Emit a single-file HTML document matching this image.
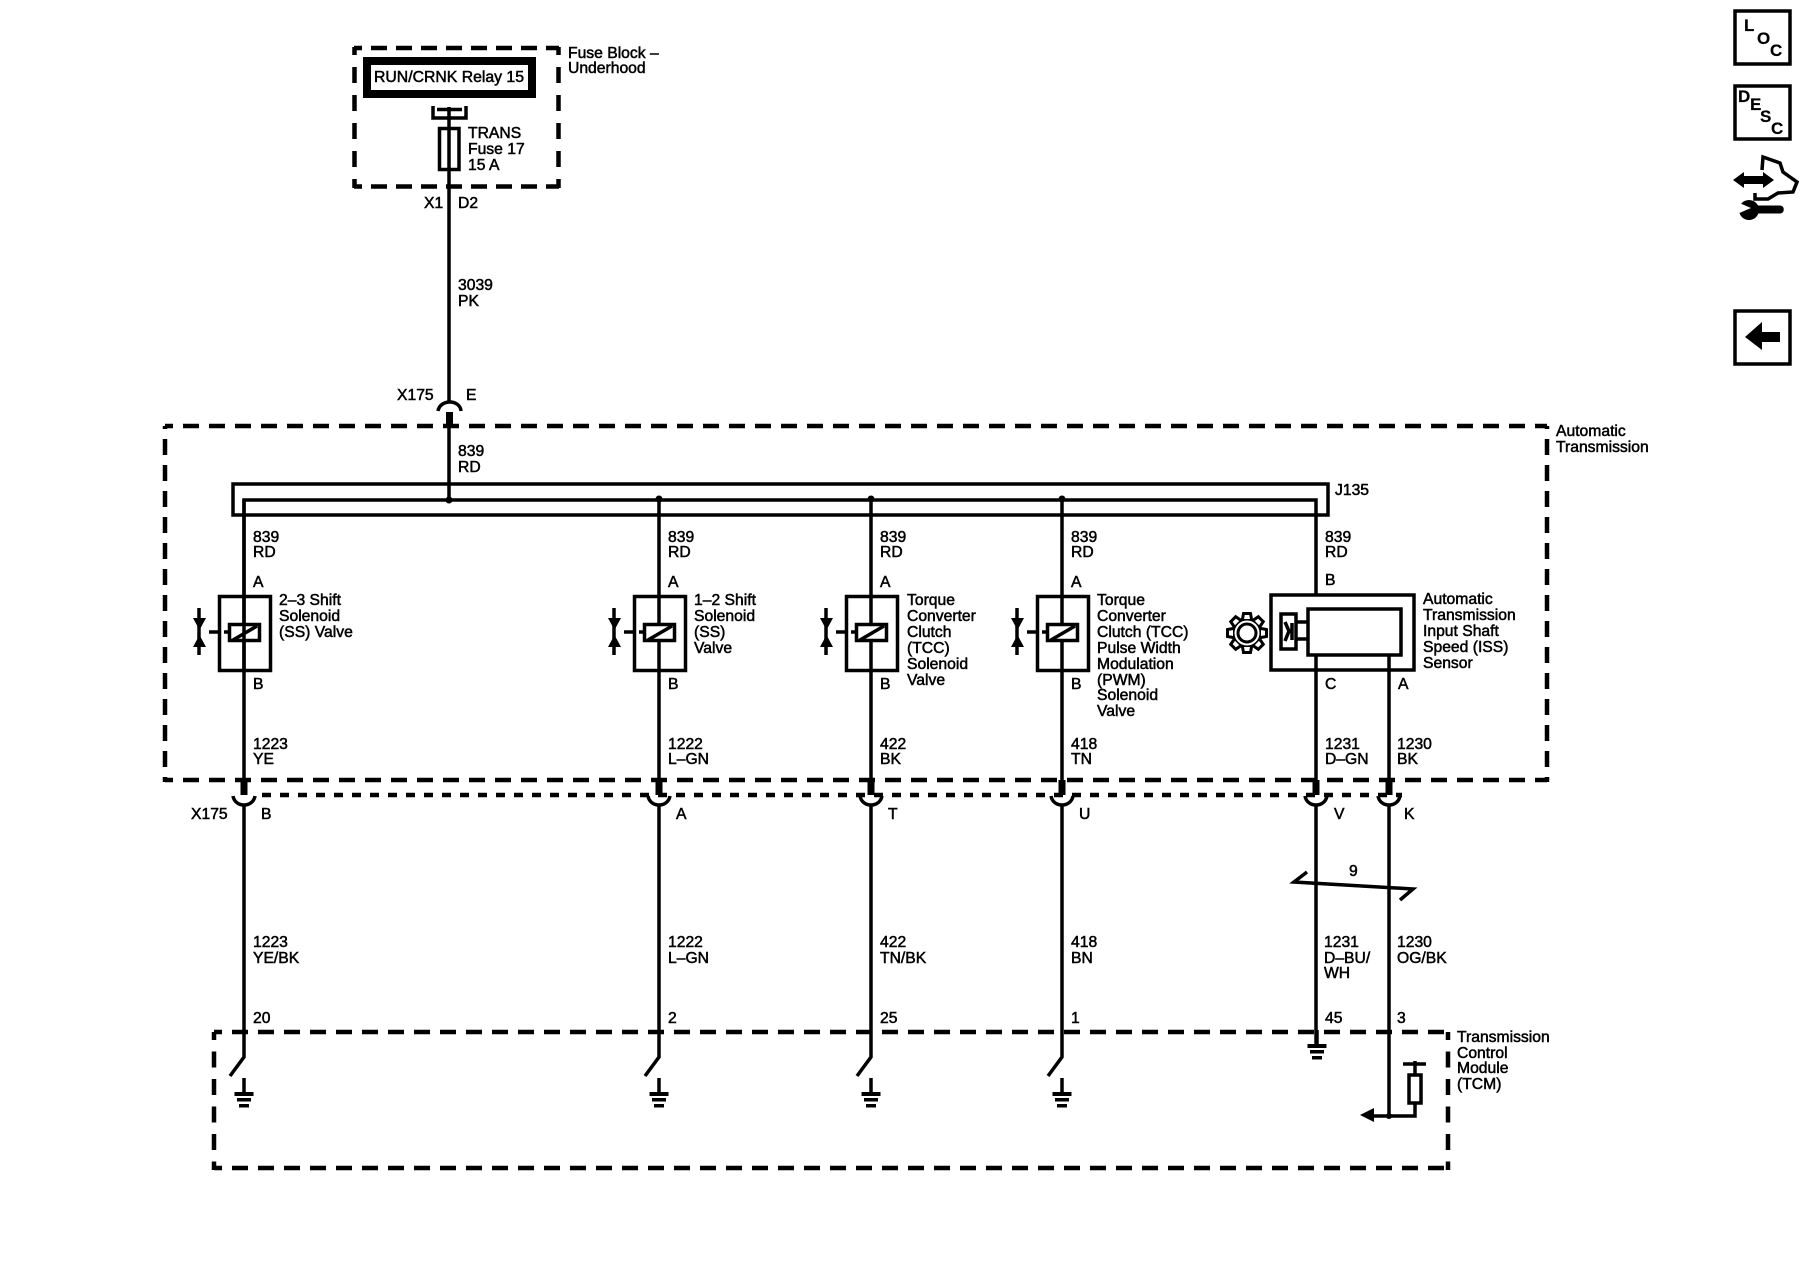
<!DOCTYPE html>
<html><head><meta charset="utf-8"><title>Wiring diagram</title>
<style>
html,body{margin:0;padding:0;background:#fff}
svg{display:block}
text{font-family:"Liberation Sans",sans-serif;font-size:15.7px;fill:#000;stroke:#000;stroke-width:.5px}
.b{font-weight:bold;font-size:17px;stroke-width:.2px}
.l{stroke:#000;stroke-width:3.5;fill:none}
.d{stroke:#000;stroke-width:4.5;fill:none}
</style></head><body>
<svg width="1800" height="1280" viewBox="0 0 1800 1280" xmlns="http://www.w3.org/2000/svg">
<defs>
<g id="sol">
<rect class="l" x="219.500" y="596.500" width="51" height="74"/>
<path class="l" d="M244 596V623M244 642V672"/>
<rect class="l" x="229.500" y="624.500" width="30" height="16" stroke-width="4"/>
<path class="l" stroke-width="2.500" d="M233 640L257 626"/>
<path class="l" stroke-width="3" d="M209 632H218M224 632H229M199 608V655"/>
<path d="M193 618H206L199.500 630ZM193 647H206L199.500 635Z" fill="#000"/>
</g>
<g id="gnd">
<path class="l" d="M0 0V15"/>
<path d="M-9.500 14h19v4h-19zM-7 20h14v3.500h-14zM-5 26h10v3.500h-10z" fill="#000"/>
</g>
<g id="conn">
<path d="M-3.500 780h7v15h-7z" fill="#000"/>
<path class="l" d="M-11 796C-9 808 9 808 11 796"/>
<path class="l" d="M0 805V1057L-14 1076"/>
</g>
<path id="tooth" d="M-4.500 -14L-3.500 -19.500H3.500L4.500 -14" fill="#fff" stroke="#000" stroke-width="3"/>
</defs>

<!-- Fuse block -->
<path class="d" stroke-dasharray="16 9" stroke-dashoffset="8" d="M354 48H559M354 186.500H559"/>
<path class="d" stroke-dasharray="16 12" stroke-dashoffset="8" d="M354.500 47V188M558.500 47V188"/>
<rect x="367" y="61" width="165" height="33" fill="none" stroke="#000" stroke-width="8"/>
<text x="374" y="82" textLength="150" lengthAdjust="spacingAndGlyphs">RUN/CRNK Relay 15</text>
<path class="l" d="M433 106V118H466V106"/>
<path class="l" d="M437 109.500H462" stroke-width="4"/>
<path class="l" d="M449 107V401"/>
<rect class="l" x="439.500" y="128.500" width="19.500" height="41"/>
<text x="468" y="138">TRANS</text><text x="468" y="154">Fuse 17</text><text x="468" y="170">15 A</text>
<text x="568" y="58">Fuse Block –</text><text x="568" y="73">Underhood</text>
<text x="424" y="208">X1</text><text x="458" y="208">D2</text>
<text x="458" y="290">3039</text><text x="458" y="306">PK</text>

<!-- X175 top -->
<text x="397" y="400">X175</text><text x="466" y="400">E</text>
<path class="l" d="M438 411C440 399 460 399 461 411"/>
<path d="M446 412h7v15h-7z" fill="#000"/>
<path class="l" d="M449 426V500"/>
<text x="458" y="456">839</text><text x="458" y="472">RD</text>

<!-- Transmission box -->
<path class="d" stroke-dasharray="16 10" stroke-dashoffset="8" d="M165 426H1547M165 780H1547"/>
<path class="d" stroke-width="4" stroke-dasharray="16 10" stroke-dashoffset="13" d="M165 426V782M1547 426V782"/>
<text x="1556" y="436">Automatic</text><text x="1556" y="452">Transmission</text>

<!-- Bus -->
<rect class="l" x="233" y="484" width="1095" height="31"/>
<path class="l" d="M244 672V500H1316V594"/>
<circle cx="449" cy="500" r="3.500"/><circle cx="659" cy="499" r="3.500"/><circle cx="871" cy="499" r="3.500"/><circle cx="1062" cy="499" r="3.500"/>
<path class="l" d="M659 498V596M871 498V596M1062 498V596M244 500V596"/>
<text x="1335" y="495">J135</text>

<!-- Solenoids -->
<use href="#sol"/>
<use href="#sol" x="415"/>
<use href="#sol" x="627"/>
<use href="#sol" x="818"/>
<path class="l" d="M244 672V780M659 672V780M871 672V780M1062 672V780M1316 656V780M1389 656V780"/>

<text x="253" y="542">839</text><text x="253" y="557">RD</text><text x="253" y="587">A</text><text x="253" y="689">B</text>
<text x="668" y="542">839</text><text x="668" y="557">RD</text><text x="668" y="587">A</text><text x="668" y="689">B</text>
<text x="880" y="542">839</text><text x="880" y="557">RD</text><text x="880" y="587">A</text><text x="880" y="689">B</text>
<text x="1071" y="542">839</text><text x="1071" y="557">RD</text><text x="1071" y="587">A</text><text x="1071" y="689">B</text>
<text x="1325" y="542">839</text><text x="1325" y="557">RD</text><text x="1325" y="585">B</text><text x="1325" y="689">C</text><text x="1398" y="689">A</text>

<text x="279" y="605">2–3 Shift</text><text x="279" y="621">Solenoid</text><text x="279" y="637">(SS) Valve</text>
<text x="694" y="605">1–2 Shift</text><text x="694" y="621">Solenoid</text><text x="694" y="637">(SS)</text><text x="694" y="653">Valve</text>
<text x="907" y="605">Torque</text><text x="907" y="621">Converter</text><text x="907" y="637">Clutch</text><text x="907" y="653">(TCC)</text><text x="907" y="669">Solenoid</text><text x="907" y="685">Valve</text>
<text x="1097" y="605">Torque</text><text x="1097" y="621">Converter</text><text x="1097" y="637">Clutch (TCC)</text><text x="1097" y="653">Pulse Width</text><text x="1097" y="669">Modulation</text><text x="1097" y="685">(PWM)</text><text x="1097" y="700">Solenoid</text><text x="1097" y="716">Valve</text>

<!-- Sensor -->
<rect class="l" x="1271" y="595" width="143" height="75"/>
<rect class="l" x="1308" y="609" width="93" height="46" stroke-width="4"/>
<rect class="l" x="1281" y="614" width="15" height="35"/>
<path class="l" d="M1297 622H1307M1297 639H1307"/>
<path class="l" stroke-width="2.500" d="M1285 622L1289 631L1285 641M1292 623V640"/>
<circle cx="1247" cy="633" r="14" fill="none" stroke="#000" stroke-width="3"/>
<use href="#tooth" transform="translate(1247 633)"/>
<use href="#tooth" transform="translate(1247 633) rotate(45)"/>
<use href="#tooth" transform="translate(1247 633) rotate(90)"/>
<use href="#tooth" transform="translate(1247 633) rotate(135)"/>
<use href="#tooth" transform="translate(1247 633) rotate(180)"/>
<use href="#tooth" transform="translate(1247 633) rotate(225)"/>
<use href="#tooth" transform="translate(1247 633) rotate(270)"/>
<use href="#tooth" transform="translate(1247 633) rotate(315)"/>
<circle cx="1247" cy="633" r="9" fill="#fff" stroke="#000" stroke-width="3"/>
<text x="1423" y="604">Automatic</text><text x="1423" y="620">Transmission</text><text x="1423" y="636">Input Shaft</text><text x="1423" y="652">Speed (ISS)</text><text x="1423" y="668">Sensor</text>

<!-- Mid labels -->
<text x="253" y="749">1223</text><text x="253" y="764">YE</text>
<text x="668" y="749">1222</text><text x="668" y="764">L–GN</text>
<text x="880" y="749">422</text><text x="880" y="764">BK</text>
<text x="1071" y="749">418</text><text x="1071" y="764">TN</text>
<text x="1325" y="749">1231</text><text x="1325" y="764">D–GN</text>
<text x="1397" y="749">1230</text><text x="1397" y="764">BK</text>

<!-- Dotted line -->
<path class="d" stroke-dasharray="9 9" d="M262 795H1402"/>

<!-- X175 bottom connectors -->
<use href="#conn" x="244"/><use href="#conn" x="659"/><use href="#conn" x="871"/><use href="#conn" x="1062"/>
<path d="M1312.500 780h7v15h-7zM1385.500 780h7v15h-7z" fill="#000"/>
<path class="l" d="M1305 796C1307 808 1325 808 1327 796M1378 796C1380 808 1398 808 1400 796"/>
<path class="l" d="M1316 805V1045M1389 805V1116"/>
<text x="191" y="819">X175</text>
<text x="261" y="819">B</text><text x="676" y="819">A</text><text x="888" y="819">T</text><text x="1079" y="819">U</text><text x="1334" y="819">V</text><text x="1404" y="819">K</text>

<!-- Slash -->
<path class="l" d="M1307 872L1294 882L1413 889L1400 900"/>
<text x="1349" y="876">9</text>

<!-- Lower labels -->
<text x="253" y="947">1223</text><text x="253" y="963">YE/BK</text>
<text x="668" y="947">1222</text><text x="668" y="963">L–GN</text>
<text x="880" y="947">422</text><text x="880" y="963">TN/BK</text>
<text x="1071" y="947">418</text><text x="1071" y="963">BN</text>
<text x="1324" y="947">1231</text><text x="1324" y="963">D–BU/</text><text x="1324" y="978">WH</text>
<text x="1397" y="947">1230</text><text x="1397" y="963">OG/BK</text>
<text x="253" y="1023">20</text><text x="668" y="1023">2</text><text x="880" y="1023">25</text><text x="1071" y="1023">1</text><text x="1325" y="1023">45</text><text x="1397" y="1023">3</text>

<!-- TCM box -->
<path class="d" stroke-dasharray="16 10" stroke-dashoffset="8" d="M214 1032H1448M214 1168H1448"/>
<path class="d" stroke-width="4" stroke-dasharray="16 11.500" stroke-dashoffset="8" d="M214 1032V1170M1448 1032V1170"/>
<text x="1457" y="1042">Transmission</text><text x="1457" y="1058">Control</text><text x="1457" y="1073">Module</text><text x="1457" y="1089">(TCM)</text>

<!-- Grounds -->
<use href="#gnd" x="244" y="1078"/><use href="#gnd" x="659" y="1078"/><use href="#gnd" x="871" y="1078"/><use href="#gnd" x="1062" y="1078"/>
<use href="#gnd" x="1317" y="1030"/>

<!-- TCM pullup -->
<path class="l" d="M1372 1116H1415V1103M1415 1074V1061"/>
<path class="l" d="M1403 1064H1426" stroke-width="4"/>
<rect class="l" x="1409" y="1075" width="12" height="28"/>
<path d="M1360 1115L1374 1108V1122Z" fill="#000"/>
<circle cx="1389" cy="1116" r="3"/>

<!-- Right panel -->
<rect class="l" x="1735" y="11" width="55" height="53" stroke-width="4"/>
<text class="b" x="1744" y="31">L</text><text class="b" x="1757" y="44">O</text><text class="b" x="1770" y="56">C</text>
<rect class="l" x="1735" y="86" width="55" height="53" stroke-width="4"/>
<text class="b" x="1738" y="102">D</text><text class="b" x="1750" y="110">E</text><text class="b" x="1760" y="122">S</text><text class="b" x="1771" y="134">C</text>
<path d="M1733 180L1744 172V176H1763V172L1774 180L1763 188V184H1744V188Z" fill="#000"/>
<path class="l" stroke-width="4" d="M1762 170L1763 157L1780 163L1783 172L1797 182L1793 192L1778 193L1768 199H1755V193"/>
<circle cx="1749" cy="210" r="10"/>
<path d="M1750 205.500H1780C1785 205.500 1785 213.500 1780 213.500H1750Z" fill="#000"/>
<path d="M1737 202L1751 208L1737 214Z" fill="#fff"/>
<rect class="l" x="1735" y="311" width="55" height="53" stroke-width="4"/>
<path d="M1745 337L1762 322V332H1780V342H1762V350Z" fill="#000"/>
</svg>
</body></html>
